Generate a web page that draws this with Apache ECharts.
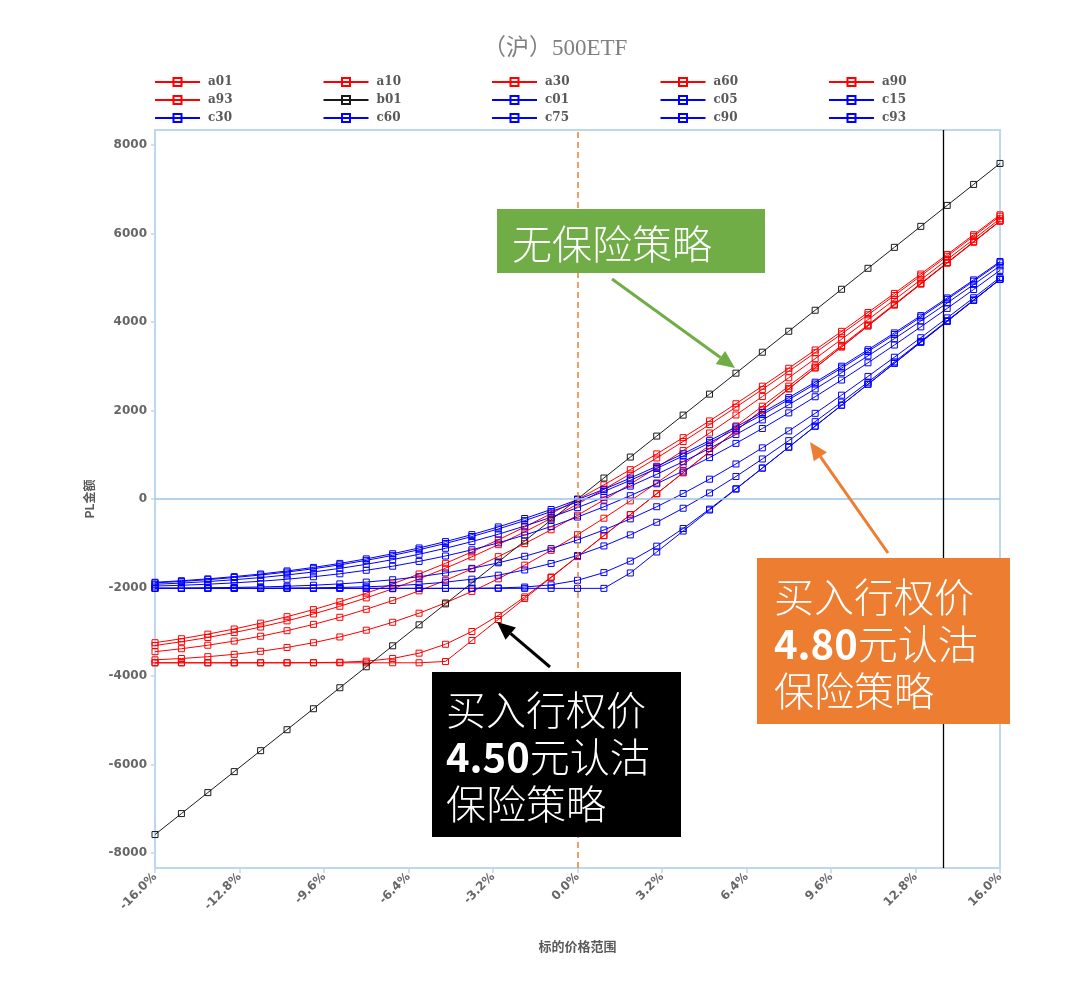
<!DOCTYPE html>
<html><head><meta charset="utf-8">
<script src="https://cdn.jsdelivr.net/npm/echarts@6.0.0/dist/echarts.min.js"></script>
<style>html,body{margin:0;padding:0;background:#fff}#c{width:1080px;height:989px}</style>
</head><body><div id="c"></div>
<script>
// price change of the underlying, in %
const pct = [-16,-15,-14,-13,-12,-11,-10,-9,-8,-7,-6,-5,-4,-3,-2,-1,0,1,2,3,4,5,6,7,8,9,10,11,12,13,14,15,16];

// 4.50 put protection
const a01 = [-3248,-3158,-3054,-2938,-2806,-2660,-2500,-2322,-2129,-1920,-1695,-1454,-1196,-922,-633,-330,-12,319,663,1019,1387,1765,2153,2550,2955,3368,3789,4215,4647,5085,5527,5973,6423];
const a10 = [-3311,-3227,-3130,-3019,-2894,-2754,-2598,-2425,-2235,-2029,-1806,-1565,-1307,-1032,-742,-437,-116,219,567,927,1299,1682,2075,2477,2888,3306,3731,4163,4600,5042,5488,5938,6391];
const a30 = [-3451,-3384,-3305,-3211,-3102,-2977,-2834,-2674,-2493,-2294,-2076,-1838,-1580,-1303,-1008,-696,-367,-22,337,710,1095,1492,1899,2315,2740,3172,3610,4054,4502,4955,5411,5871,6333];
const a60 = [-3635,-3605,-3564,-3511,-3442,-3355,-3248,-3118,-2965,-2786,-2581,-2348,-2089,-1804,-1495,-1161,-807,-434,-43,363,782,1212,1651,2098,2551,3009,3471,3936,4403,4872,5343,5814,6286];
const a90 = [-3702,-3702,-3702,-3702,-3702,-3701,-3699,-3690,-3665,-3604,-3484,-3283,-2995,-2631,-2213,-1763,-1298,-827,-354,120,594,1068,1542,2016,2490,2964,3438,3912,4386,4860,5334,5808,6282];
const a93 = [-3702,-3702,-3702,-3702,-3702,-3702,-3702,-3702,-3702,-3702,-3702,-3672,-3198,-2724,-2250,-1776,-1302,-828,-354,120,594,1068,1542,2016,2490,2964,3438,3912,4386,4860,5334,5808,6282];
// no protection
const b01 = [-7584,-7110,-6636,-6162,-5688,-5214,-4740,-4266,-3792,-3318,-2844,-2370,-1896,-1422,-948,-474,0,474,948,1422,1896,2370,2844,3318,3792,4266,4740,5214,5688,6162,6636,7110,7584];
// 4.80 put protection
const c01 = [-1882,-1847,-1805,-1754,-1695,-1626,-1547,-1456,-1353,-1237,-1107,-963,-805,-631,-441,-237,-16,220,472,739,1023,1319,1629,1954,2291,2640,3001,3373,3754,4145,4544,4952,5367];
const c05 = [-1896,-1863,-1823,-1775,-1718,-1652,-1576,-1488,-1387,-1274,-1147,-1005,-848,-677,-489,-285,-66,170,422,690,973,1271,1582,1908,2247,2598,2960,3334,3717,4110,4512,4922,5339];
const c15 = [-1928,-1900,-1866,-1825,-1776,-1717,-1649,-1568,-1476,-1370,-1249,-1114,-963,-797,-612,-412,-195,39,291,559,843,1144,1458,1788,2131,2487,2855,3234,3623,4022,4430,4846,5269];
const c30 = [-1968,-1950,-1926,-1896,-1859,-1813,-1757,-1691,-1611,-1519,-1411,-1288,-1148,-991,-815,-621,-408,-176,75,344,632,936,1257,1594,1946,2311,2689,3078,3480,3890,4308,4735,5168];
const c60 = [-2015,-2012,-2007,-1999,-1988,-1972,-1949,-1919,-1878,-1825,-1757,-1672,-1568,-1443,-1295,-1122,-924,-700,-449,-175,125,448,792,1156,1538,1936,2347,2770,3204,3645,4094,4548,5007];
const c75 = [-2020,-2020,-2019,-2018,-2017,-2014,-2008,-1999,-1985,-1962,-1928,-1880,-1812,-1722,-1604,-1457,-1276,-1061,-811,-526,-209,137,509,905,1319,1748,2190,2641,3099,3562,4029,4498,4969];
const c90 = [-2020,-2020,-2020,-2020,-2020,-2020,-2020,-2020,-2020,-2020,-2020,-2019,-2018,-2011,-1990,-1940,-1838,-1663,-1404,-1066,-667,-229,231,700,1172,1646,2120,2594,3068,3542,4016,4490,4964];
const c93 = [-2020,-2020,-2020,-2020,-2020,-2020,-2020,-2020,-2020,-2020,-2020,-2020,-2020,-2020,-2020,-2020,-2020,-2020,-1672,-1198,-724,-250,224,698,1172,1646,2120,2594,3068,3542,4016,4490,4964];

const seriesNames = ['a01','a10','a30','a60','a90','a93','b01','c01','c05','c15','c30','c60','c75','c90','c93'];
const seriesValues = [a01,a10,a30,a60,a90,a93,b01,c01,c05,c15,c30,c60,c75,c90,c93];

const xTicks = [-16,-12.8,-9.6,-6.4,-3.2,0,3.2,6.4,9.6,12.8,16];
const yTicks = [-8000,-6000,-4000,-2000,0,2000,4000,6000,8000];
const refLineX = 13.85;

const titleText = '（沪）500ETF';
const xName = '标的价格范围';
const yName = 'PL金额';

const colorOf = n => n[0] === 'a' ? '#ff0000' : (n[0] === 'b' ? '#1a1a1a' : '#0000ff');
const axisBlue = '#bdd7ee';

const series = seriesNames.map((n, k) => {
  const s = {
    name: n, type: 'line',
    data: pct.map((x, i) => [x, seriesValues[k][i]]),
    symbol: 'rect', symbolSize: 6, showSymbol: true, showAllSymbol: true,
    lineStyle: { color: colorOf(n), width: 1 },
    itemStyle: { color: 'rgba(255,255,255,0)', borderColor: colorOf(n), borderWidth: 1 },
    emphasis: { disabled: true },
    silent: true, animation: false
  };
  if (n === 'b01') {
    s.markLine = {
      silent: true, symbol: ['none', 'none'], label: { show: false }, animation: false,
      data: [
        { yAxis: 0, lineStyle: { color: '#9dc3e6', width: 1.5, type: 'solid' } },
        { xAxis: 0, lineStyle: { color: '#ed7d31', width: 1.5, type: [6, 4] } },
        { xAxis: refLineX, lineStyle: { color: '#000000', width: 1.3, type: 'solid' } }
      ]
    };
  }
  return s;
});

const legends = seriesNames.map((n, i) => ({
  data: [n], left: 154 + (i % 5) * 168.5, top: 76 + Math.floor(i / 5) * 18,
  itemWidth: 45, itemHeight: 10, itemGap: 0, padding: 0, selectedMode: false,
  textStyle: { fontFamily: 'DejaVu Serif', fontWeight: 'bold', fontSize: 12, color: '#595959', padding: [0, 0, 0, 3] }
}));

const cjk = '"Noto Sans CJK SC"';
function box(x, y, w, h, color) {
  return { type: 'rect', shape: { x: x, y: y, width: w, height: h }, style: { fill: color }, z: 100, silent: true };
}
function arrow(x1, y1, x2, y2, color) {
  const dx = x2 - x1, dy = y2 - y1, L = Math.sqrt(dx * dx + dy * dy);
  const ux = dx / L, uy = dy / L, hl = 18, hw = 8;
  const bx = x2 - ux * hl, by = y2 - uy * hl;
  return [
    { type: 'line', shape: { x1: x1, y1: y1, x2: bx, y2: by }, style: { stroke: color, lineWidth: 3 }, z: 100, silent: true },
    { type: 'polygon', shape: { points: [[x2, y2], [bx - uy * hw, by + ux * hw], [bx + uy * hw, by - ux * hw]] }, style: { fill: color }, z: 100, silent: true }
  ];
}
function label(x, y, text, fs) {
  return { type: 'text', left: x, top: y, z: 101, silent: true,
    style: { text: text, fill: '#ffffff', fontFamily: cjk, fontSize: fs, fontWeight: 300, lineHeight: 47,
      rich: { b: { fontFamily: cjk, fontSize: fs, fontWeight: 'bold', fill: '#ffffff', lineHeight: 47 } } } };
}

const graphic = [
  box(497, 209, 268, 64, '#70ad47'),
  label(512, 220, '无保险策略', 40),
  ...arrow(612, 279, 735, 368, '#70ad47'),
  box(757, 558, 253, 166, '#ed7d31'),
  label(774, 573, '买入行权价\n{b|4.80}元认沽\n保险策略', 40),
  ...arrow(888, 553, 810, 442, '#ed7d31'),
  box(432, 672, 249, 165, '#000000'),
  label(446, 686, '买入行权价\n{b|4.50}元认沽\n保险策略', 40),
  ...arrow(550, 667, 497, 622, '#000000')
];

const axisLabelStyle = { color: '#666666', fontWeight: 'bold', fontSize: 12, fontFamily: 'DejaVu Sans' };

const option = {
  backgroundColor: '#ffffff',
  animation: false,
  title: { text: titleText, left: 478, top: 32,
    textStyle: { fontFamily: 'Liberation Serif, ' + cjk, fontSize: 23, fontWeight: 'normal', color: '#7f7f7f' } },
  legend: legends,
  grid: { left: 155, right: 80, top: 130, bottom: 121, show: true, borderColor: axisBlue, borderWidth: 2, containLabel: false, outerBoundsMode: 'none' },
  xAxis: {
    type: 'value', min: -16, max: 16, interval: 3.2,
    axisLine: { show: true, onZero: false, lineStyle: { color: axisBlue, width: 2 } },
    axisTick: { show: true, length: 5, customValues: xTicks, lineStyle: { color: axisBlue, width: 1.5 } },
    axisLabel: Object.assign({ customValues: xTicks, rotate: 45, margin: 7, formatter: v => Number(v).toFixed(1) + '%' }, axisLabelStyle),
    splitLine: { show: false },
    name: xName, nameLocation: 'middle', nameGap: 72,
    nameTextStyle: { color: '#595959', fontWeight: 'bold', fontSize: 13, fontFamily: cjk }
  },
  yAxis: {
    type: 'value', min: -8340, max: 8340,
    axisLine: { show: true, onZero: false, lineStyle: { color: axisBlue, width: 2 } },
    axisTick: { show: true, length: 4, customValues: yTicks, lineStyle: { color: axisBlue, width: 1.5 } },
    axisLabel: Object.assign({ customValues: yTicks, margin: 8, formatter: v => String(v) }, axisLabelStyle),
    splitLine: { show: false },
    name: yName, nameLocation: 'middle', nameGap: 60, nameRotate: 90,
    nameTextStyle: { color: '#595959', fontWeight: 'bold', fontSize: 12, fontFamily: cjk }
  },
  series: series,
  graphic: graphic
};

const chart = echarts.init(document.getElementById('c'), null, { renderer: 'canvas', width: 1080, height: 989 });
chart.setOption(option);
</script>
</body></html>
